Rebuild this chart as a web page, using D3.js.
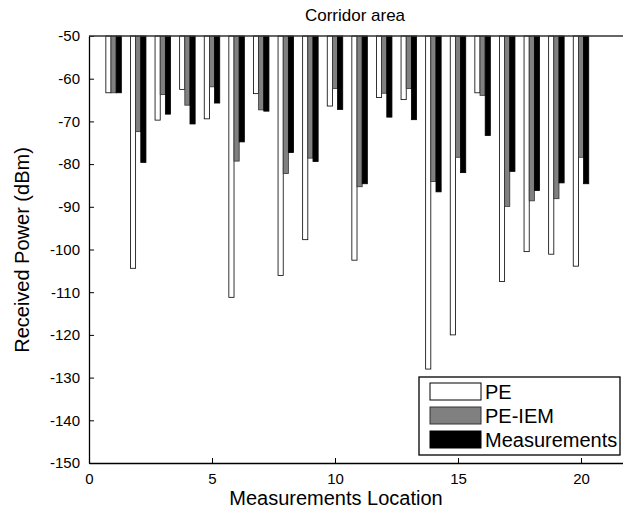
<!DOCTYPE html>
<html>
<head>
<meta charset="utf-8">
<script src="https://cdn.jsdelivr.net/npm/d3@7"></script>
<style>
  body { margin: 0; background: #fff; }
  svg { display: block; font-family: "Liberation Sans", Arial, Helvetica, sans-serif; }
</style>
</head>
<body>
<svg id="chart"></svg>
<script>
// values (dBm)
let locations = d3.range(1, 21)
let pe = [-63.3, -104.4, -69.7, -62.5, -69.4, -111.2, -63.5, -106.1, -97.7, -66.4,
          -102.5, -64.4, -64.9, -128.0, -120.0, -63.3, -107.5, -100.5, -101.1, -103.9]
let peIem = [-63.3, -72.4, -63.7, -66.2, -61.9, -79.3, -67.3, -82.2, -78.6, -62.3,
             -85.3, -63.4, -62.3, -84.1, -78.4, -63.9, -89.9, -88.6, -88.1, -78.4]
let measurements = [-63.3, -79.6, -68.3, -70.6, -65.7, -74.8, -67.6, -77.3, -79.4, -67.2,
                    -84.6, -69.0, -69.6, -86.5, -82.0, -73.3, -81.7, -86.2, -84.4, -84.6]
let seriesNames = ['PE', 'PE-IEM', 'Measurements']
let seriesColors = ['#ffffff', '#808080', '#000000']
let xTicks = [0, 5, 10, 15, 20]
let yTicks = d3.range(-150, -40, 10)

let width = 623
let height = 513
let padLeft = 89
let padTop = 36
let padBottom = 463

let svg = d3.select('#chart')
    .attr('width', width)
    .attr('height', height)

let xScale = d3.scaleLinear().domain([0, 22]).range([padLeft, padLeft + 22 * 24.6])
let yScale = d3.scaleLinear().domain([-150, -50]).range([padBottom, padTop])

let barW = 0.21
let offsets = [-barW, 0, barW]
let allSeries = [pe, peIem, measurements]

// bars hang down from the top (-50)
allSeries.forEach((vals, s) => {
    svg.append('g')
        .selectAll('rect')
        .data(vals)
        .enter()
        .append('rect')
        .attr('x', (d, i) => xScale(locations[i] + offsets[s] - barW / 2))
        .attr('width', xScale(barW) - xScale(0))
        .attr('y', yScale(-50))
        .attr('height', (d) => yScale(d) - yScale(-50))
        .attr('fill', seriesColors[s])
        .attr('stroke', s === 1 ? '#333' : '#000')
        .attr('stroke-width', 0.8)
})

// axes, ticks pointing inwards, plain hyphen for minus
let xAxis = d3.axisBottom(xScale).tickValues(xTicks).tickSizeInner(-5).tickSizeOuter(0).tickPadding(10)
    .tickFormat((d) => String(d))
let yAxis = d3.axisLeft(yScale).tickValues(yTicks).tickSizeInner(-5).tickSizeOuter(0).tickPadding(9)
    .tickFormat((d) => String(d))

let gx = svg.append('g')
    .attr('transform', 'translate(0,' + padBottom + ')')
    .call(xAxis)
let gy = svg.append('g')
    .attr('transform', 'translate(' + padLeft + ',0)')
    .call(yAxis)

;[gx, gy].forEach((g) => {
    g.attr('font-family', null)
    g.selectAll('text').attr('font-size', 15).attr('fill', '#000')
    g.selectAll('line').attr('stroke', '#000')
    g.select('.domain').attr('stroke', '#000').attr('stroke-width', 1.3)
})

// top border of the box
svg.append('line')
    .attr('x1', padLeft).attr('x2', xScale(22))
    .attr('y1', padTop).attr('y2', padTop)
    .attr('stroke', '#333')
    .attr('stroke-width', 1.3)

svg.append('text')
    .attr('x', 355)
    .attr('y', 21)
    .attr('text-anchor', 'middle')
    .attr('font-size', 17)
    .text('Corridor area')

svg.append('text')
    .attr('x', 336)
    .attr('y', 505)
    .attr('text-anchor', 'middle')
    .attr('font-size', 20)
    .text('Measurements Location')

svg.append('text')
    .attr('transform', 'translate(29,250) rotate(-90)')
    .attr('text-anchor', 'middle')
    .attr('font-size', 20)
    .text('Received Power (dBm)')

// legend
let legend = svg.append('g').attr('transform', 'translate(419,377)')
legend.append('rect')
    .attr('width', 201).attr('height', 78)
    .attr('fill', '#fff').attr('stroke', '#000').attr('stroke-width', 1.3)
seriesNames.forEach((name, i) => {
    legend.append('rect')
        .attr('x', 11).attr('y', 6 + i * 24)
        .attr('width', 51).attr('height', 17)
        .attr('fill', seriesColors[i])
        .attr('stroke', i === 1 ? '#333' : '#000')
    legend.append('text')
        .attr('x', 66).attr('y', 22 + i * 24)
        .attr('font-size', 20)
        .text(name)
})
</script>
</body>
</html>
